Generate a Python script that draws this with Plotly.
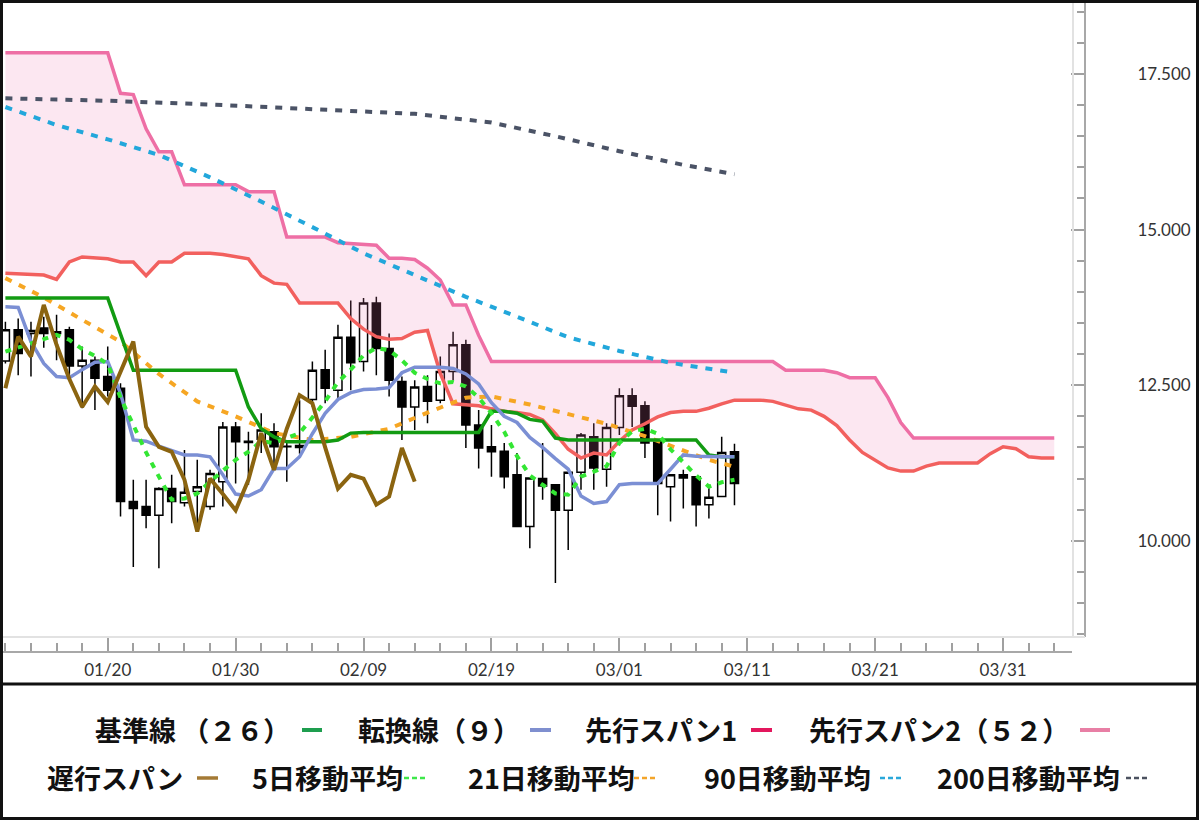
import pandas as pd
import plotly.graph_objects as go

# 日足 2023-01-12 〜 2023-03-10（先行スパンは 04-04 まで）
dates = pd.date_range("2023-01-12", "2023-04-04", freq="D")
n_bar = 58

open_ = [12.89, 13.39, 13.33, 13.42, 13.36, 13.39, 12.81, 12.90, 12.64, 12.45,
         10.63, 10.55, 10.41, 10.84, 10.61, 10.79, 10.55, 10.95, 11.83, 11.60,
         11.63, 11.75, 11.52, 11.50, 12.27, 12.75, 12.42, 13.27, 12.88, 13.82,
         13.09, 12.56, 12.15, 12.48, 12.26, 12.72, 13.15, 11.86, 11.51, 11.44,
         11.06, 10.23, 11.00, 10.90, 10.49, 11.10, 11.67, 11.15, 11.82, 12.33,
         12.17, 11.59, 10.87, 11.06, 11.03, 10.58, 10.71, 11.43]
high = [13.52, 13.57, 13.52, 13.60, 13.63, 13.44, 13.12, 12.96, 13.12, 12.53,
        10.98, 10.98, 10.86, 11.06, 11.46, 11.30, 11.14, 11.91, 11.91, 11.75,
        12.05, 11.89, 11.62, 12.26, 12.88, 13.07, 13.47, 13.86, 13.90, 13.92,
        13.33, 12.64, 12.58, 12.66, 12.96, 13.36, 13.23, 12.10, 11.86, 11.57,
        11.41, 11.02, 11.57, 10.90, 11.10, 11.73, 11.89, 11.89, 12.45, 12.45,
        12.24, 11.59, 11.06, 11.14, 11.03, 10.90, 11.67, 11.56]
low = [12.85, 12.66, 12.64, 13.10, 12.90, 12.64, 12.13, 12.10, 12.32, 10.39,
       9.58, 10.20, 9.56, 10.28, 10.55, 10.17, 10.50, 10.55, 10.92, 10.90,
       11.41, 11.14, 10.95, 11.40, 12.15, 12.21, 12.26, 12.42, 12.72, 12.66,
       12.32, 11.62, 11.78, 11.89, 12.21, 12.58, 11.49, 11.16, 11.03, 10.84,
       10.22, 9.88, 10.66, 9.32, 9.85, 10.82, 10.82, 10.87, 11.70, 11.83,
       11.33, 10.41, 10.31, 10.52, 10.23, 10.36, 10.71, 10.57]
close = [13.39, 13.01, 13.38, 13.33, 13.33, 12.81, 12.90, 12.61, 12.42, 10.63,
         10.52, 10.41, 10.84, 10.63, 10.78, 10.87, 11.08, 11.83, 11.59, 11.58,
         11.78, 11.51, 11.51, 11.53, 12.74, 12.45, 13.27, 12.86, 13.82, 13.09,
         12.58, 12.15, 12.47, 12.24, 12.72, 13.15, 11.86, 11.49, 11.43, 11.03,
         10.23, 11.01, 10.88, 10.49, 11.10, 11.70, 11.17, 11.82, 12.33, 12.16,
         11.57, 10.92, 11.06, 11.01, 10.58, 10.70, 11.42, 10.92]

kijun = [13.90, 13.90, 13.90, 13.90, 13.90, 13.90, 13.90, 13.90, 13.90, 13.32,
         12.74, 12.74, 12.74, 12.74, 12.74, 12.74, 12.74, 12.74, 12.74, 12.15,
         11.80, 11.67, 11.59, 11.59, 11.59, 11.59, 11.62, 11.73, 11.74, 11.74,
         11.74, 11.74, 11.74, 11.74, 11.74, 11.74, 11.74, 11.74, 12.08, 12.08,
         12.05, 11.95, 11.92, 11.65, 11.62, 11.62, 11.62, 11.62, 11.62, 11.62,
         11.62, 11.62, 11.62, 11.62, 11.62, 11.38, 11.35, 11.35]
tenkan = [13.76, 13.75, 13.20, 12.85, 12.64, 12.62, 12.75, 12.87, 12.88, 12.37,
          11.62, 11.60, 11.52, 11.45, 11.38, 11.38, 11.35, 11.06, 10.75, 10.72,
          10.82, 11.16, 11.16, 11.35, 11.72, 12.05, 12.27, 12.38, 12.43, 12.44,
          12.46, 12.70, 12.79, 12.79, 12.79, 12.77, 12.68, 12.52, 12.22, 12.00,
          11.90, 11.66, 11.50, 11.32, 11.15, 10.72, 10.60, 10.63, 10.90, 10.92,
          10.92, 10.92, 11.15, 11.38, 11.36, 11.35, 11.35, 11.35]
# 先行スパン1・2（01-12 〜 04-04）
senkou1 = [14.30, 14.29, 14.28, 14.27, 14.20, 14.48, 14.56, 14.55, 14.53, 14.48,
           14.48, 14.26, 14.48, 14.48, 14.62, 14.62, 14.62, 14.60, 14.56, 14.53,
           14.26, 14.14, 14.12, 13.82, 13.82, 13.82, 13.82, 13.57, 13.40, 13.28,
           13.24, 13.25, 13.35, 13.38, 12.69, 12.20, 12.18, 12.17, 12.12, 12.08,
           12.06, 12.03, 11.94, 11.72, 11.47, 11.33, 11.41, 11.38, 11.60, 11.78,
           11.88, 11.99, 12.06, 12.08, 12.08, 12.13, 12.20, 12.26, 12.26, 12.26,
           12.24, 12.18, 12.12, 12.10, 12.00, 11.85, 11.62, 11.42, 11.30, 11.17,
           11.12, 11.12, 11.20, 11.25, 11.25, 11.25, 11.25, 11.40, 11.51, 11.48,
           11.35, 11.33, 11.33]
senkou2 = [17.84, 17.84, 17.84, 17.84, 17.84, 17.84, 17.84, 17.84, 17.84, 17.19,
           17.17, 16.62, 16.25, 16.25, 15.72, 15.72, 15.72, 15.72, 15.72, 15.61,
           15.61, 15.61, 14.88, 14.88, 14.88, 14.88, 14.79, 14.78, 14.77, 14.75,
           14.54, 14.54, 14.52, 14.38, 14.19, 13.79, 13.79, 13.30, 12.88, 12.88,
           12.88, 12.88, 12.88, 12.88, 12.88, 12.88, 12.88, 12.88, 12.88, 12.88,
           12.88, 12.88, 12.88, 12.88, 12.88, 12.88, 12.88, 12.88, 12.88, 12.88,
           12.88, 12.74, 12.74, 12.74, 12.74, 12.70, 12.62, 12.62, 12.62, 12.30,
           11.90, 11.65, 11.65, 11.65, 11.65, 11.65, 11.65, 11.65, 11.65, 11.65,
           11.65, 11.65, 11.65]
# 遅行スパン（01-12 〜 02-13）
chikou = [12.45, 13.28, 12.96, 13.79, 13.15, 12.60, 12.15, 12.48, 12.23, 12.70,
          13.20, 11.83, 11.51, 11.43, 10.98, 10.15, 11.00, 10.75, 10.49, 10.98,
          11.73, 11.14, 11.80, 12.34, 12.21, 11.50, 10.84, 11.06, 11.00, 10.58,
          10.71, 11.49, 10.95]

ma5 = [13.04, 13.10, 13.17, 13.24, 13.31, 13.23, 13.08, 12.97, 12.84, 12.30,
       11.85, 11.42, 11.03, 10.66, 10.68, 10.76, 10.95, 11.12, 11.30, 11.43,
       11.60, 11.57, 11.65, 11.73, 11.98, 12.24, 12.55, 12.75, 12.98, 13.10,
       13.06, 12.90, 12.70, 12.60, 12.53, 12.55, 12.48, 12.30, 12.05, 11.75,
       11.36, 11.05, 10.90, 10.76, 10.74, 11.03, 11.11, 11.20, 11.57, 11.76,
       11.80, 11.72, 11.47, 11.25, 11.05, 10.87, 10.94, 10.98]
ma21_dates = ["2023-01-12", "2023-01-15", "2023-01-18", "2023-01-21", "2023-01-24",
              "2023-01-27", "2023-01-30", "2023-02-02", "2023-02-05", "2023-02-08",
              "2023-02-11", "2023-02-14", "2023-02-17", "2023-02-19", "2023-02-22",
              "2023-02-25", "2023-02-28", "2023-03-03", "2023-03-06", "2023-03-08",
              "2023-03-10"]
ma21 = [14.22, 13.91, 13.55, 13.20, 12.68, 12.24, 12.00, 11.73, 11.62, 11.67,
        11.80, 12.06, 12.30, 12.32, 12.19, 12.03, 11.88, 11.68, 11.45, 11.30, 11.19]
ma90_dates = ["2023-01-12", "2023-01-16", "2023-01-20", "2023-01-24", "2023-01-28",
              "2023-02-01", "2023-02-05", "2023-02-09", "2023-02-13", "2023-02-17",
              "2023-02-21", "2023-02-25", "2023-03-01", "2023-03-05", "2023-03-10"]
ma90 = [16.97, 16.68, 16.45, 16.20, 15.84, 15.45, 15.04, 14.62, 14.27, 13.92,
        13.60, 13.27, 13.05, 12.86, 12.70]
ma200_dates = ["2023-01-12", "2023-01-20", "2023-01-28", "2023-02-05", "2023-02-13",
               "2023-02-19", "2023-02-24", "2023-03-01", "2023-03-06", "2023-03-10"]
ma200 = [17.11, 17.07, 17.01, 16.94, 16.86, 16.72, 16.50, 16.26, 16.04, 15.89]

# 凡例
row1 = [("基準線 （２６）", "#1e9e4f", 93), ("転換線（９）", "#7f8fcf", 356),
        ("先行スパン1", "#e3175d", 583), ("先行スパン2（５２）", "#e87fa5", 807)]
row2 = [("遅行スパン", "#a47a35", 45), ("5日移動平均", "#3ee84a", 250),
        ("21日移動平均", "#f4a52a", 466), ("90日移動平均", "#2aa8da", 702),
        ("200日移動平均", "#4c5260", 935)]

# ページ座標 -> paper 座標（プロット領域 x:3-1085, y:2-652）
L, W, B, H = 3, 1082, 652, 650


def px(x):
    return (x - L) / W


def py(y):
    return (B - y) / H


fig = go.Figure()

fig.add_trace(go.Candlestick(
    x=dates[:n_bar], open=open_, high=high, low=low, close=close,
    increasing=dict(line=dict(color="#000000", width=1.5), fillcolor="#ffffff"),
    decreasing=dict(line=dict(color="#000000", width=1.5), fillcolor="#000000"),
    whiskerwidth=0, showlegend=False,
))

fig.add_trace(go.Scatter(x=dates, y=senkou2, mode="lines",
                         line=dict(color="#ee6fa5", width=3.5), showlegend=False))
fig.add_trace(go.Scatter(x=dates, y=senkou1, mode="lines", fill="tonexty",
                         fillcolor="rgba(240,120,180,0.18)",
                         line=dict(color="#f2605e", width=3.5), showlegend=False))

fig.add_trace(go.Scatter(x=ma200_dates, y=ma200, mode="lines",
                         line=dict(color="#4b5366", width=4, dash="7px,8px"), showlegend=False))
fig.add_trace(go.Scatter(x=ma90_dates, y=ma90, mode="lines",
                         line=dict(color="#22a7db", width=4, dash="7px,8px"), showlegend=False))
fig.add_trace(go.Scatter(x=ma21_dates, y=ma21, mode="lines",
                         line=dict(color="#f6a623", width=4, dash="7px,8px"), showlegend=False))

fig.add_trace(go.Scatter(x=dates[:n_bar], y=kijun, mode="lines",
                         line=dict(color="#129b12", width=3.5), showlegend=False))
fig.add_trace(go.Scatter(x=dates[:n_bar], y=tenkan, mode="lines",
                         line=dict(color="#7b8fd4", width=3.5), showlegend=False))
fig.add_trace(go.Scatter(x=dates[:n_bar], y=ma5, mode="lines",
                         line=dict(color="#33e633", width=4, dash="6px,7px"), showlegend=False))
fig.add_trace(go.Scatter(x=dates[:len(chikou)], y=chikou, mode="lines",
                         line=dict(color="#8b6410", width=4), showlegend=False))

shapes = [
    # プロット領域の薄い枠
    dict(type="line", xref="paper", yref="paper", x0=px(3), x1=px(1085), y0=py(637), y1=py(637),
         line=dict(color="#e2e2e2", width=2)),
    dict(type="line", xref="paper", yref="paper", x0=px(1073), x1=px(1073), y0=py(637), y1=py(0),
         line=dict(color="#e2e2e2", width=2)),
    # 外枠と区切り線
    dict(type="rect", xref="paper", yref="paper", x0=px(1.5), x1=px(1197.5), y0=py(818.5), y1=py(1.5),
         line=dict(color="#111111", width=3)),
    dict(type="line", xref="paper", yref="paper", x0=px(0), x1=px(1198), y0=py(684), y1=py(684),
         line=dict(color="#111111", width=3)),
]

annotations = []
font = dict(family="Noto Sans CJK JP", size=27, color="#111111", weight="bold")
for label, color, x in row1:
    annotations.append(dict(xref="paper", yref="paper", x=px(x), y=py(729), text=label,
                            showarrow=False, xanchor="left", yanchor="middle", font=font))
for label, color, x in row2:
    annotations.append(dict(xref="paper", yref="paper", x=px(x), y=py(777), text=label,
                            showarrow=False, xanchor="left", yanchor="middle", font=font))

# 凡例の線記号
legend_marks1 = [(302, 322), (530, 551), (751, 772), (1080, 1110)]
for (label, color, _), (a, b) in zip(row1, legend_marks1):
    shapes.append(dict(type="line", xref="paper", yref="paper", x0=px(a), x1=px(b),
                       y0=py(730), y1=py(730), line=dict(color=color, width=4)))
legend_marks2 = [(197, 218), (404, 426), (634, 656), (880, 903), (1126, 1150)]
for i, ((label, color, _), (a, b)) in enumerate(zip(row2, legend_marks2)):
    shapes.append(dict(type="line", xref="paper", yref="paper", x0=px(a), x1=px(b),
                       y0=py(778), y1=py(778),
                       line=dict(color=color, width=3.5 if i == 0 else 2.5,
                                 dash="solid" if i == 0 else "5px,3px")))

fig.update_layout(
    width=1200, height=821,
    margin=dict(l=L, r=1200 - L - W, t=2, b=821 - B),
    paper_bgcolor="#ffffff", plot_bgcolor="#ffffff",
    showlegend=False,
    boxgap=0.1,
    xaxis=dict(
        type="date", domain=[0, 0.988], anchor="free", position=0,
        range=["2023-01-11 19:30", "2023-04-05 09:20"],
        tick0="2023-01-20", dtick=864000000, tickformat="%m/%d",
        ticks="inside", ticklen=15, tickwidth=1.5, tickcolor="#a0a0a0",
        minor=dict(dtick=172800000, tick0="2023-01-20", ticks="inside", ticklen=8,
                   tickwidth=1.5, tickcolor="#a0a0a0"),
        showline=True, linecolor="#a8a8a8", linewidth=2,
        showgrid=False, zeroline=False, rangeslider=dict(visible=False),
        ticklabelstandoff=3,
        tickfont=dict(family="Lato", size=17, color="#333333"),
    ),
    yaxis=dict(
        side="right", anchor="free", position=1, domain=[(B - 637) / H, 1],
        range=[8.454, 18.657], tick0=0, dtick=2.5, tickformat=".3f",
        ticks="inside", ticklen=13, tickwidth=1.5, tickcolor="#a0a0a0",
        minor=dict(dtick=0.5, ticks="inside", ticklen=7, tickwidth=1.5, tickcolor="#a0a0a0"),
        showline=True, linecolor="#a8a8a8", linewidth=2,
        showgrid=False, zeroline=False, ticklabelstandoff=48,
        tickfont=dict(family="Lato", size=17, color="#333333"),
    ),
    shapes=shapes,
    annotations=annotations,
)

# ページ余白をなくして 1200x821 にぴったり合わせる
fig.write_html("out.html", config={"displayModeBar": False},
               post_script="document.body.style.margin='0';")
